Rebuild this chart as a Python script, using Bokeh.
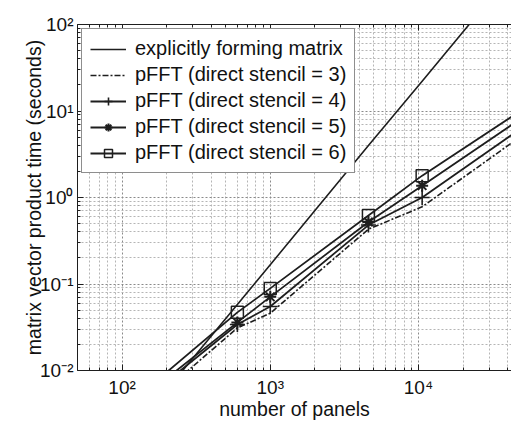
from bokeh.plotting import figure
from bokeh.models import (Range1d, FixedTicker, LogAxis, Legend, LegendItem)
from bokeh.embed import file_html
from bokeh.resources import INLINE

# ---- data ----
panels = [150, 600, 1000, 4600, 10600, 50000]
explicit_panels = [150, 600, 1000, 4600, 10600, 30000]
explicit_time = [0.0033, 0.058, 0.167, 4.0, 22.1, 190.0]
stencil3 = [0.0040, 0.031, 0.046, 0.43, 0.78, 5.2]
stencil4 = [0.0050, 0.034, 0.055, 0.48, 1.00, 6.4]
stencil5 = [0.0055, 0.036, 0.071, 0.52, 1.37, 8.3]
stencil6 = [0.0063, 0.047, 0.089, 0.62, 1.79, 10.3]

labels = ["explicitly forming matrix",
          "pFFT (direct stencil = 3)",
          "pFFT (direct stencil = 4)",
          "pFFT (direct stencil = 5)",
          "pFFT (direct stencil = 6)"]

x_major = [100, 1000, 10000]
x_tick_labels = ["10\u00b2", "10\u00b3", "10\u2074"]
y_major = [0.01, 0.1, 1, 10, 100]
y_tick_labels = ["10\u207b\u00b2", "10\u207b\u00b9", "10\u2070", "10\u00b9", "10\u00b2"]

x_minor = [m * d for d in [10, 100, 1000, 10000] for m in range(2, 10)]
y_minor = [m * d for d in [0.01, 0.1, 1, 10] for m in range(2, 10)]

FONT = "Liberation Sans"
INK = "#1e1e1e"

p = figure(width=511, height=422, x_axis_type="log", y_axis_type="log",
           x_range=Range1d(50, 42500), y_range=Range1d(0.01, 100),
           output_backend="svg", toolbar_location=None,
           min_border_left=77, min_border_right=0, min_border_top=24, min_border_bottom=50)
p.outline_line_color = None
p.background_fill_color = "white"
p.border_fill_color = "white"

xt = FixedTicker(ticks=x_major, minor_ticks=x_minor)
yt = FixedTicker(ticks=y_major, minor_ticks=y_minor)

p.xaxis[0].ticker = xt
p.xaxis[0].major_label_overrides = {v: s for v, s in zip(x_major, x_tick_labels)}
p.yaxis[0].ticker = yt
p.yaxis[0].major_label_overrides = {v: s for v, s in zip(y_major, y_tick_labels)}

for ax in (p.xaxis[0], p.yaxis[0]):
    ax.major_tick_in = 6
    ax.major_tick_out = 0
    ax.minor_tick_in = 3
    ax.minor_tick_out = 0
    ax.axis_line_color = INK
    ax.major_tick_line_color = INK
    ax.minor_tick_line_color = INK
    ax.major_label_text_font = FONT
    ax.major_label_text_font_size = "19px"
    ax.major_label_text_color = "#111111"
    ax.axis_label_text_font = FONT
    ax.axis_label_text_font_size = "19.5px"
    ax.axis_label_text_font_style = "normal"
    ax.axis_label_text_color = "#111111"

p.xaxis.major_label_standoff = 6
p.xaxis.axis_label = "number of panels"
p.xaxis.axis_label_standoff = -3
p.yaxis.major_label_standoff = 4
p.yaxis.axis_label = "matrix vector product time (seconds)"
p.yaxis.axis_label_standoff = -8

top = LogAxis(ticker=xt, major_tick_in=6,
              major_tick_out=0, minor_tick_in=3, minor_tick_out=0,
              axis_line_color=INK, major_tick_line_color=INK, minor_tick_line_color=INK,
              major_label_text_color=None, major_label_text_font_size="10px",
              major_label_standoff=0)
p.add_layout(top, "above")

for g in (p.xgrid[0], p.ygrid[0]):
    g.grid_line_color = "#8a8a8a"
    g.grid_line_dash = "2 2"
    g.grid_line_width = 1
    g.minor_grid_line_color = "#b5b5b5"
    g.minor_grid_line_dash = "2 2"
    g.minor_grid_line_width = 1
p.xgrid[0].ticker = xt
p.ygrid[0].ticker = yt

r0 = p.line(explicit_panels, explicit_time, line_color=INK, line_width=1.6)
r3 = p.line(panels, stencil3, line_color=INK, line_width=1.6, line_dash="6 2 2 2")
r4 = p.line(panels, stencil4, line_color=INK, line_width=1.8)
m4 = p.scatter(panels, stencil4, marker="cross", size=15, line_color=INK, line_width=1.6)
r5 = p.line(panels, stencil5, line_color=INK, line_width=1.8)
m5 = p.scatter(panels, stencil5, marker="asterisk", size=12, line_color=INK, line_width=2)
r6 = p.line(panels, stencil6, line_color=INK, line_width=1.8)
m6 = p.scatter(panels, stencil6, marker="square", size=12, line_color=INK, line_width=1.5,
               fill_color=None)

legend = Legend(items=[LegendItem(label=labels[0], renderers=[r0]),
                       LegendItem(label=labels[1], renderers=[r3]),
                       LegendItem(label=labels[2], renderers=[r4, m4]),
                       LegendItem(label=labels[3], renderers=[r5, m5]),
                       LegendItem(label=labels[4], renderers=[r6, m6])],
                location="top_left", margin=4, padding=8, spacing=3,
                label_height=20, glyph_height=20, glyph_width=36, label_standoff=9,
                label_text_font=FONT, label_text_font_size="20px", label_text_color="#111111",
                border_line_color=INK, border_line_width=1,
                background_fill_color="white", background_fill_alpha=1.0)
p.add_layout(legend)

open("out.html", "w").write(file_html(p, INLINE))
